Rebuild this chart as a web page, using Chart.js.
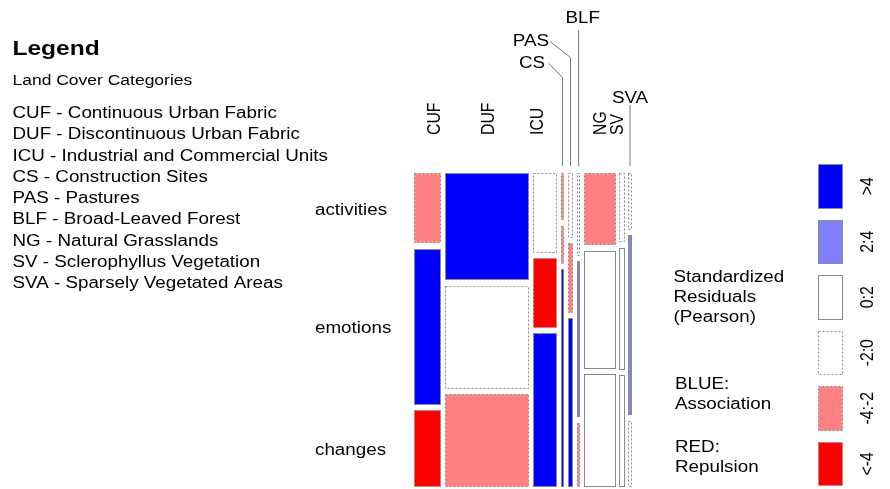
<!DOCTYPE html>
<html>
<head>
<meta charset="utf-8">
<script src="https://cdn.jsdelivr.net/npm/chart.js@4.4.1/dist/chart.umd.min.js"></script>
<style>
  html, body { margin: 0; padding: 0; background: #fff; overflow: hidden; }
  #wrap { position: relative; width: 890px; height: 489px; }
</style>
</head>
<body>
<div id="wrap"><canvas id="c" width="890" height="489"></canvas></div>
<script>
// Land cover categories (columns of the mosaic) and their full names
const landCover = ['CUF', 'DUF', 'ICU', 'CS', 'PAS', 'BLF', 'NG', 'SV', 'SVA'];
const landCoverNames = [
  'Continuous Urban Fabric', 'Discontinuous Urban Fabric', 'Industrial and Commercial Units',
  'Construction Sites', 'Pastures', 'Broad-Leaved Forest', 'Natural Grasslands',
  'Sclerophyllus Vegetation', 'Sparsely Vegetated Areas'
];
// Themes (rows of the mosaic)
const themes = ['activities', 'emotions', 'changes'];

// Observed counts per theme, one value per land cover category
const activitiesCounts = [67, 318, 69, 5, 13, 9, 81, 13, 6];
const emotionsCounts   = [148, 304, 60, 4, 14, 17, 132, 23, 19];
const changesCounts    = [73, 275, 133, 23, 34, 7, 126, 21, 7];

// Standardized Pearson residuals per cell
const activitiesResid = [-3, 5, -1, -3, -1, -1, -3, -1, -1];
const emotionsResid   = [5, -1, -5, -3, -3, 3, 1, 1, 3];
const changesResid    = [-5, -3, 5, 5, 5, -3, 1, 1, -1];

// Residual shading classes
const residualBins = ['>4', '2:4', '0:2', '-2:0', '-4:-2', '<-4'];

// ---- styling ----
const FONT = '"Liberation Sans", Arial, Helvetica, sans-serif';
const SX = 1.19;                       // horizontal text stretch
const binFill   = ['#0000ff', '#8080ff', '#ffffff', '#ffffff', '#ff8080', '#ff0000'];
const binDashed = [false, false, false, true, true, true];
const BORDER = '#8a8a8a';
const GAP_X = 0.0171, GAP_Y = 0.0176;   // spacing between tiles, in axis units

function binOf(r) {
  if (r > 4) return 0;
  if (r > 2) return 1;
  if (r > 0) return 2;
  if (r > -2) return 3;
  if (r > -4) return 4;
  return 5;
}

const rowCounts = [activitiesCounts, emotionsCounts, changesCounts];
const rowResid = [activitiesResid, emotionsResid, changesResid];
const colTotals = landCover.map((_, j) => rowCounts.reduce((s, r) => s + r[j], 0));
const grandTotal = colTotals.reduce((a, b) => a + b, 0);

// Tile geometry in axis units (x: 0..1 across, y: 0..1 downwards)
function buildTiles() {
  const tiles = [];
  const wAvail = 1 - (landCover.length - 1) * GAP_X;
  const hAvail = 1 - (themes.length - 1) * GAP_Y;
  let x = 0;
  landCover.forEach((lc, j) => {
    const w = colTotals[j] / grandTotal * wAvail;
    let y = 0;
    themes.forEach((th, i) => {
      const h = rowCounts[i][j] / colTotals[j] * hAvail;
      tiles.push({ i, j, x0: x, x1: x + w, y0: y, y1: y + h, bin: binOf(rowResid[i][j]) });
      y += h + GAP_Y;
    });
    x += w + GAP_X;
  });
  return tiles;
}
const tiles = buildTiles();

function drawText(ctx, str, x, y, o) {
  ctx.save();
  ctx.translate(x, y);
  ctx.scale(SX, 1);
  if (o.rot) ctx.rotate(o.rot);
  ctx.font = (o.bold ? 'bold ' : '') + o.size + 'px ' + FONT;
  ctx.fillStyle = '#000';
  ctx.textAlign = o.align || 'left';
  ctx.textBaseline = o.baseline || 'alphabetic';
  ctx.fillText(str, 0, 0);
  ctx.restore();
}

function tileRect(ctx, L, T, R, B, bin) {
  const l = Math.round(L) + 0.5, r = Math.round(R) - 0.5;
  const t = Math.round(T) + 0.5, b = Math.round(B) - 0.5;
  ctx.save();
  ctx.fillStyle = binFill[bin];
  ctx.fillRect(l, t, Math.max(r - l, 0), Math.max(b - t, 0));
  ctx.strokeStyle = BORDER;
  ctx.lineWidth = 1;
  ctx.setLineDash(binDashed[bin] ? [2, 2] : []);
  ctx.strokeRect(l, t, Math.max(r - l, 0), Math.max(b - t, 0));
  ctx.restore();
}

function line(ctx, pts) {
  ctx.save();
  ctx.strokeStyle = '#777';
  ctx.lineWidth = 1;
  ctx.beginPath();
  pts.forEach((p, k) => (k ? ctx.lineTo(p[0], p[1]) : ctx.moveTo(p[0], p[1])));
  ctx.stroke();
  ctx.restore();
}

const mosaicPlugin = {
  id: 'mosaic',
  afterDatasetsDraw(chart) {
    const ctx = chart.ctx;
    const xs = chart.scales.x, ys = chart.scales.y;

    // tiles
    tiles.forEach(tl => {
      tileRect(ctx, xs.getPixelForValue(tl.x0), ys.getPixelForValue(tl.y0),
        xs.getPixelForValue(tl.x1), ys.getPixelForValue(tl.y1), tl.bin);
    });

    // row labels, centred on the first column's tiles
    tiles.filter(tl => tl.j === 0).forEach(tl => {
      const cy = (ys.getPixelForValue(tl.y0) + ys.getPixelForValue(tl.y1)) / 2;
      drawText(ctx, themes[tl.i], 315, cy + 6.5, { size: 15.8 });
    });

    // column labels
    const colCenter = j => {
      const tl = tiles.find(t => t.j === j);
      return (xs.getPixelForValue(tl.x0) + xs.getPixelForValue(tl.x1)) / 2;
    };
    const rotated = { CUF: 7, DUF: 2, ICU: -7, NG: 1, SV: -4 };
    landCover.forEach((lc, j) => {
      if (lc in rotated) {
        drawText(ctx, lc, colCenter(j) + rotated[lc], 135, { size: 15.8, rot: -Math.PI / 2, baseline: 'middle' });
      }
    });
    const top = ys.getPixelForValue(0) - 7;
    // callout labels for narrow columns
    const cs = colCenter(landCover.indexOf('CS'));
    drawText(ctx, 'CS', 545, 67.5, { size: 15.8, align: 'right' });
    line(ctx, [[549, 63.5], [cs, 77.5], [cs, top]]);
    const pas = colCenter(landCover.indexOf('PAS'));
    drawText(ctx, 'PAS', 549, 45.5, { size: 15.8, align: 'right' });
    line(ctx, [[550, 41.5], [pas, 57.5], [pas, top]]);
    const blf = colCenter(landCover.indexOf('BLF'));
    drawText(ctx, 'BLF', blf + 4, 23, { size: 15.8, align: 'center' });
    line(ctx, [[blf, 30], [blf, top]]);
    const sva = colCenter(landCover.indexOf('SVA'));
    drawText(ctx, 'SVA', sva, 102.5, { size: 15.8, align: 'center' });
    line(ctx, [[sva, 105], [sva, top]]);

    // left legend
    drawText(ctx, 'Legend', 12.5, 54.5, { size: 20.6, bold: true });
    drawText(ctx, 'Land Cover Categories', 12.5, 85, { size: 14.7 });
    landCover.forEach((lc, k) => {
      drawText(ctx, lc + ' - ' + landCoverNames[k], 12.5, 118 + 21.25 * k, { size: 15.8 });
    });

    // residual legend
    residualBins.forEach((lab, k) => {
      const t = 164 + 55.5 * k;
      tileRect(ctx, 817.5, t, 842.5, t + 44.5, k);
      drawText(ctx, lab, 868, t + 22.25, { size: 15.8, rot: -Math.PI / 2, align: 'center', baseline: 'middle' });
    });
    ['Standardized', 'Residuals', '(Pearson)'].forEach((s, k) =>
      drawText(ctx, s, 673.5, 282 + 20 * k, { size: 15.8 }));
    ['BLUE:', 'Association'].forEach((s, k) => drawText(ctx, s, 675, 389 + 19.5 * k, { size: 15.8 }));
    ['RED:', 'Repulsion'].forEach((s, k) => drawText(ctx, s, 675, 452 + 19.5 * k, { size: 15.8 }));
  }
};

new Chart(document.getElementById('c'), {
  type: 'scatter',
  data: {
    datasets: [{
      label: 'tiles',
      data: tiles.map(tl => ({ x: (tl.x0 + tl.x1) / 2, y: (tl.y0 + tl.y1) / 2 })),
      pointRadius: 0,
      pointHoverRadius: 0
    }]
  },
  options: {
    responsive: false,
    animation: false,
    devicePixelRatio: 1,
    events: [],
    layout: { padding: { left: 414, right: 258.5, top: 173, bottom: 2 } },
    plugins: { legend: { display: false }, tooltip: { enabled: false } },
    scales: {
      x: { type: 'linear', min: 0, max: 1, display: false },
      y: { type: 'linear', min: 0, max: 1, reverse: true, display: false }
    }
  },
  plugins: [mosaicPlugin]
});
</script>
</body>
</html>
